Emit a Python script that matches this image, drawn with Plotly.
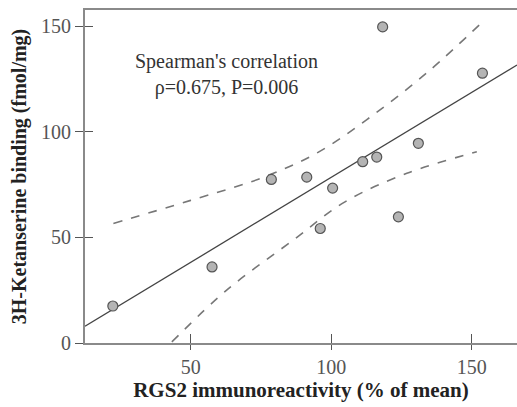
import plotly.graph_objects as go

# Data
rgs2 = [22.3, 57.6, 78.7, 91.3, 96.1, 100.5, 111.2, 116.2, 118.3, 123.9, 131.0, 153.8]
binding = [17.5, 36.0, 77.4, 78.5, 54.2, 73.3, 85.8, 88.0, 149.6, 59.7, 94.5, 127.7]

fit_x = [12.4, 166.1]
fit_y = [7.9, 131.6]

upper_x = [22.5, 50.0, 75.0, 95.0, 115.0, 135.0, 153.6]
upper_y = [56.6, 67.5, 78.0, 90.0, 108.0, 129.0, 151.7]

lower_x = [43.3, 62.8, 86.5, 104.9, 126.9, 151.8]
lower_y = [0.5, 25.0, 48.7, 66.8, 80.3, 90.5]

x_ticks = [50, 100, 150]
y_ticks = [0, 50, 100, 150]

x_range = [12.4, 166.1]
y_range = [0, 157.6]

FONT = "Liberation Serif"

fig = go.Figure()
fig.add_trace(go.Scatter(x=upper_x, y=upper_y, mode="lines", line=dict(color="#777777", width=1.6, dash="dash", shape="spline"), hoverinfo="skip"))
fig.add_trace(go.Scatter(x=lower_x, y=lower_y, mode="lines", line=dict(color="#777777", width=1.6, dash="dash", shape="spline"), hoverinfo="skip"))
fig.add_trace(go.Scatter(x=fit_x, y=fit_y, mode="lines", line=dict(color="#444444", width=1.3)))
fig.add_trace(go.Scatter(x=rgs2, y=binding, mode="markers",
                         marker=dict(size=10, color="#b4b4b4", line=dict(color="#555555", width=1.2))))
# invisible trace on overlay axes for inward tick halves
fig.add_trace(go.Scatter(x=[x_range[0]], y=[y_range[0]], xaxis="x2", yaxis="y2", mode="markers",
                         marker=dict(opacity=0), hoverinfo="skip"))

axis_common = dict(showgrid=False, zeroline=False, linecolor="#8a8a8a", linewidth=2,
                   tickcolor="#555555", tickwidth=1.3)

fig.update_layout(
    width=517, height=407,
    margin=dict(l=85, r=0, t=10, b=64),
    plot_bgcolor="white", paper_bgcolor="white",
    showlegend=False,
    font=dict(family=FONT, color="#333333"),
    xaxis=dict(range=x_range, tickvals=x_ticks, ticks="outside", ticklen=5, showline=True, mirror=True,
               tickfont=dict(size=20, color="#555555"),
               title=dict(text="<b>RGS2 immunoreactivity (% of mean)</b>", font=dict(size=21, color="#222222"), standoff=5),
               **axis_common),
    yaxis=dict(range=y_range, tickvals=y_ticks, ticks="outside", ticklen=8, showline=True,
               tickfont=dict(size=20, color="#555555"),
               title=dict(text="<b>3H-Ketanserine binding (fmol/mg)</b>", font=dict(size=20, color="#222222"), standoff=9),
               **axis_common),
    xaxis2=dict(range=x_range, tickvals=x_ticks, ticks="inside", ticklen=9, overlaying="x", showticklabels=False,
                showline=False, showgrid=False, zeroline=False, tickcolor="#555555", tickwidth=1.3),
    yaxis2=dict(range=y_range, tickvals=y_ticks, ticks="inside", ticklen=8, overlaying="y", showticklabels=False,
                showline=False, showgrid=False, zeroline=False, tickcolor="#555555", tickwidth=1.3),
    annotations=[dict(x=62.6, y=127, xref="x", yref="y", showarrow=False,
                      text="Spearman's correlation<br>ρ=0.675, P=0.006",
                      font=dict(size=20, color="#333333", family=FONT), align="center")],
)

fig.write_html("out.html", config={"displayModeBar": False},
               post_script="document.body.style.margin='0';document.body.style.overflow='hidden';")
